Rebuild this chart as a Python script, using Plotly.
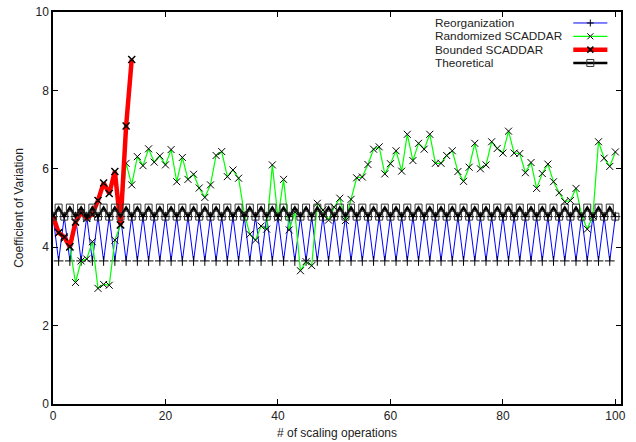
import plotly.graph_objects as go

# ---- data ----
ops = list(range(0, 101))
bounded_ops = list(range(0, 15))

reorg_even = 4.78
reorg_odd = 3.65
reorganization = [reorg_even if i % 2 == 0 else reorg_odd for i in ops]

theo_even = 4.78
theo_odd = 5.01
theoretical = [theo_even if i % 2 == 0 else theo_odd for i in ops]

randomized = [
    4.80, 4.37, 4.22, 4.00, 3.10, 3.65, 3.70, 4.14, 2.95, 3.05,  # 0-9
    3.03, 4.18, 4.57, 6.14, 5.59, 6.31, 6.08, 6.51, 6.17, 6.33,  # 10-19
    6.10, 6.49, 5.67, 6.29, 5.73, 5.86, 5.51, 5.27, 5.59, 6.34,  # 20-29
    6.44, 5.80, 5.97, 5.76, 4.87, 4.33, 4.18, 4.54, 4.46, 6.10,  # 30-39
    4.75, 5.73, 4.44, 4.90, 3.40, 3.63, 3.53, 5.12, 4.95, 4.69,  # 40-49
    5.02, 5.25, 4.68, 5.22, 5.77, 5.79, 6.11, 6.50, 6.56, 5.87,  # 50-59
    6.13, 6.46, 5.94, 6.88, 6.21, 6.65, 6.50, 6.88, 6.14, 6.14,  # 60-69
    6.34, 6.46, 5.93, 5.68, 6.04, 6.65, 6.00, 6.10, 6.69, 6.52,  # 70-79
    6.40, 6.96, 6.40, 6.39, 5.90, 6.16, 5.50, 5.88, 6.12, 5.67,  # 80-89
    5.39, 5.16, 5.19, 5.50, 4.82, 4.46, 4.80, 6.69, 6.27, 6.06,  # 90-99
    6.43,                                                        # 100
]

bounded = [4.80, 4.37, 4.26, 4.01, 4.64, 4.88, 4.74, 4.84, 5.19, 5.64,
           5.37, 5.93, 4.57, 7.09, 8.79]

x_ticks = [0, 20, 40, 60, 80, 100]
y_ticks = [0, 2, 4, 6, 8, 10]

series_names = ["Reorganization", "Randomized SCADDAR", "Bounded SCADDAR", "Theoretical"]
series_colors = ["#0000ff", "#00ff00", "#ff0000", "black"]
series_widths = [1, 1.2, 4.5, 2.5]
series_symbols = ["plus", "x", "x", "square"]

FONT = "Liberation Sans, Arial, sans-serif"
TXT = "#222222"
FS = 12
KEY_FS = 11.8

fig = go.Figure()

marker_styles = {
    "plus": dict(symbol="cross-thin", size=7, color="black", line=dict(color="black", width=1)),
    "x": dict(symbol="x-thin", size=7, color="black", line=dict(color="black", width=1)),
    "square": dict(symbol="square-open", size=7, color="#333333", line=dict(color="#333333", width=1)),
}

ys = [reorganization, randomized, bounded, theoretical]
xs = [ops, ops, bounded_ops, ops]
for name, xv, yv, col, w, sym in zip(series_names, xs, ys, series_colors, series_widths, series_symbols):
    ms = dict(marker_styles[sym])
    if name == "Bounded SCADDAR":
        ms = dict(ms, line=dict(color="black", width=1.5))
    fig.add_trace(go.Scatter(
        x=xv, y=yv, name=name, mode="lines+markers",
        line=dict(color=col, width=w), marker=ms, showlegend=False,
    ))

# ---- gnuplot-style key (left-justified text, sample on the right) ----
key_text_x = 0.671
key_sample_x0 = 0.916
key_sample_x1 = 0.976
key_mark_x = 0.946
key_rows = [0.972, 0.938, 0.904, 0.870]

shapes = []
annotations = []
for name, col, w, sym, yk in zip(series_names, series_colors, series_widths, series_symbols, key_rows):
    annotations.append(dict(
        x=key_text_x, y=yk, xref="paper", yref="paper", text=name,
        showarrow=False, xanchor="left", yanchor="middle",
        borderpad=0,
        font=dict(family=FONT, size=KEY_FS, color=TXT),
    ))
    shapes.append(dict(type="line", xref="paper", yref="paper",
                       x0=key_sample_x0, x1=key_sample_x1, y0=yk, y1=yk,
                       line=dict(color=col, width=w)))
    mk = dict(xref="paper", yref="paper", xsizemode="pixel", ysizemode="pixel",
              xanchor=key_mark_x, yanchor=yk)
    if sym == "plus":
        shapes.append(dict(type="line", x0=-3.5, x1=3.5, y0=0, y1=0, line=dict(color="black", width=1), **mk))
        shapes.append(dict(type="line", x0=0, x1=0, y0=-3.5, y1=3.5, line=dict(color="black", width=1), **mk))
    elif sym == "x":
        lw = 1.5 if w > 3 else 1
        shapes.append(dict(type="line", x0=-3, x1=3, y0=-3, y1=3, line=dict(color="black", width=lw), **mk))
        shapes.append(dict(type="line", x0=-3, x1=3, y0=3, y1=-3, line=dict(color="black", width=lw), **mk))
    else:
        shapes.append(dict(type="rect", x0=-3.5, x1=3.5, y0=-3.5, y1=3.5,
                           line=dict(color="#333333", width=1), fillcolor="rgba(0,0,0,0)", **mk))

axis_common = dict(
    showgrid=False, zeroline=False, showline=True, linecolor="black",
    linewidth=1.5, mirror="ticks", ticks="inside", ticklen=5,
    tickcolor="black", tickwidth=1, automargin=False,
    tickfont=dict(family=FONT, size=FS, color=TXT),
)

fig.update_xaxes(range=[0, 101], tickvals=x_ticks,
                 title=dict(text="# of scaling operations", standoff=6,
                            font=dict(family=FONT, size=FS, color=TXT)),
                 **axis_common)
fig.update_yaxes(range=[0, 10], tickvals=y_ticks,
                 title=dict(text="Coefficient of Variation", standoff=9,
                            font=dict(family=FONT, size=FS, color=TXT)),
                 **axis_common)

fig.update_layout(
    width=636, height=442,
    margin=dict(l=53, r=15, t=12, b=38),
    plot_bgcolor="white", paper_bgcolor="white",
    font=dict(family=FONT, size=FS, color=TXT),
    showlegend=False,
    shapes=shapes, annotations=annotations,
)

fig.write_html("out.html")
